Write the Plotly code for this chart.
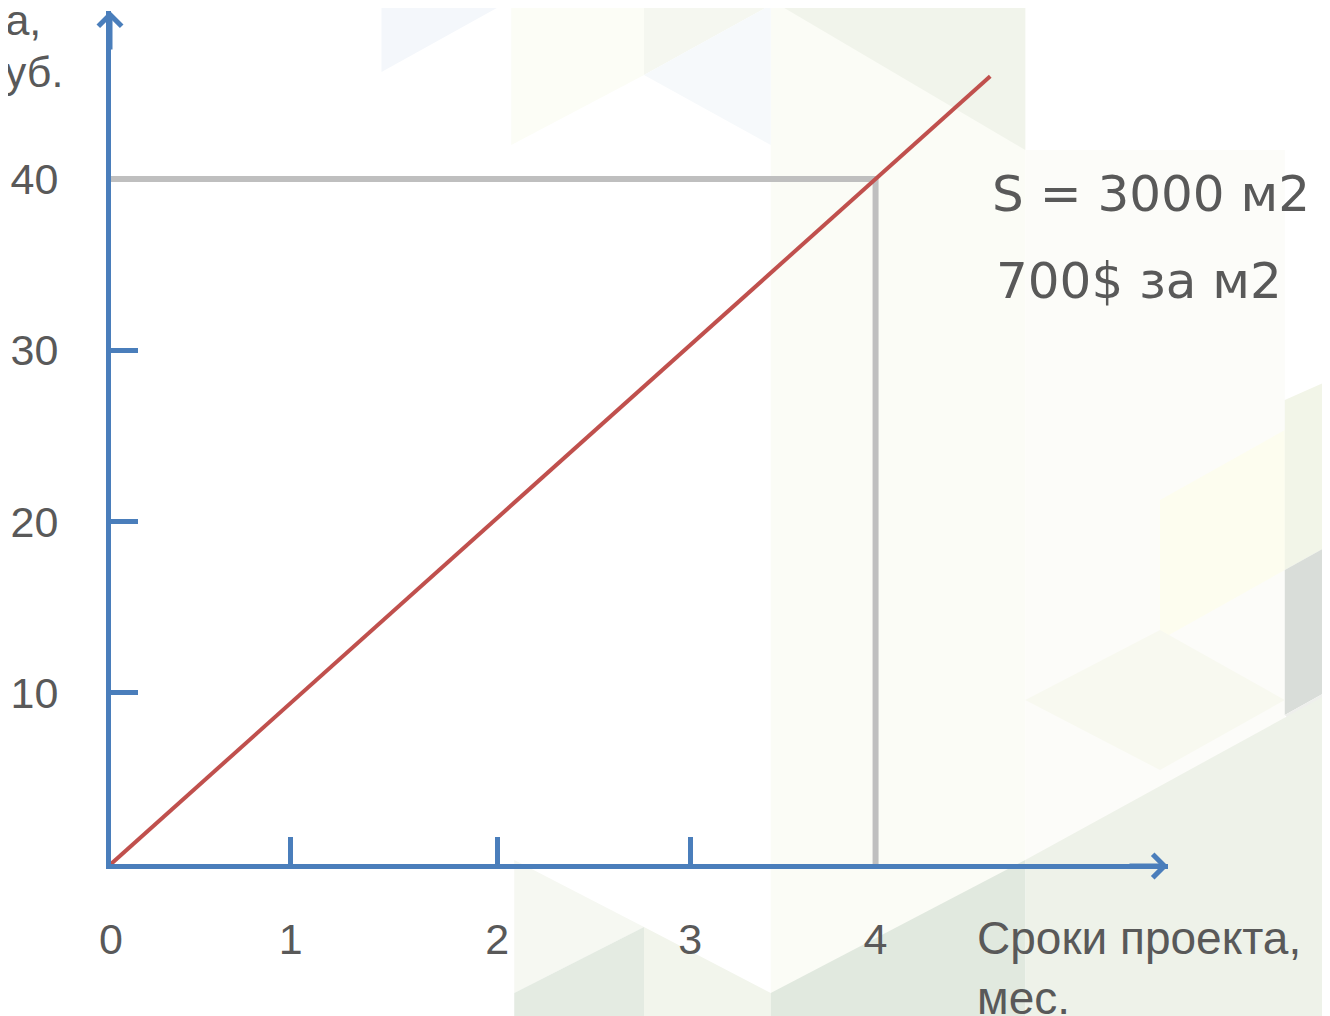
import plotly.graph_objects as go

# ---------------- data ----------------
months_line = [0, 4, 4.6]          # red revenue line (months)
revenue_line = [0, 40, 46]          # red revenue line (mln rub)
target_month = 4
target_revenue = 40
x_tick_pos = [0, 0.94, 2.02, 3.03, 4]
x_tick_text = ["0", "1", "2", "3", "4"]
y_tick_pos = [10, 20, 30, 40]
y_tick_text = ["10", "20", "30", "40"]
note_lines = ["S = 3000 м2", "700$ за м2"]
x_title = "Сроки проекта,<br>мес."
y_title_lines = ["Выгода,", "млн руб."]

# ---------------- style ----------------
W, H = 1330, 1016
OFF = 8                      # page body margin in the browser
L, R, T, B = 101, 1160, 3, 856   # plot area in figure pixels
BLUE = "#4A7EBB"
RED = "#C0504D"
GREY = "#BFBFBF"
TXT = "#595959"
FONT = "Liberation Sans, Arial, sans-serif"


def px(xs, ys):
    """screen pixel -> paper coordinates"""
    xf, yf = xs - OFF, ys - OFF
    return (xf - L) / (R - L), (B - yf) / (B - T)


fig = go.Figure()

# guide lines to target point
fig.add_trace(go.Scatter(x=[-0.03, target_month, target_month], y=[target_revenue, target_revenue, 0],
                         mode="lines", line=dict(color=GREY, width=6), hoverinfo="skip", showlegend=False))
# revenue line
fig.add_trace(go.Scatter(x=months_line, y=revenue_line, mode="lines",
                         line=dict(color=RED, width=4), hoverinfo="skip", showlegend=False))

# ---------------- background polygons (decoration, screen pixels) ----------------
bg_polys = [
    ([(770, 0), (1025, 0), (1025, 1016), (770, 1016)], "#fbfcf6"),
    ([(1025, 150), (1285, 150), (1285, 1016), (1025, 1016)], "#fcfcf9"),
    ([(380, 0), (510, 0), (380, 72)], "#f4f7fb"),
    ([(510, 0), (643, 0), (643, 75), (510, 145)], "#fcfdf6"),
    ([(643, 0), (770, 0), (770, 5), (643, 75)], "#f5f7f0"),
    ([(643, 75), (770, 5), (770, 145)], "#f6f9fb"),
    ([(770, 0), (1025, 0), (1025, 150)], "#f1f4eb"),
    ([(1160, 500), (1285, 430), (1285, 570), (1160, 640)], "#fdfdef"),
    ([(1285, 400), (1330, 380), (1330, 545), (1285, 570)], "#f2f5e8"),
    ([(1285, 570), (1330, 545), (1330, 690), (1285, 715)], "#d9ddd9"),
    ([(1285, 715), (1330, 690), (1330, 760)], "#eeefec"),
    ([(513, 860), (643, 927), (513, 993)], "#f6f8f2"),
    ([(513, 993), (643, 927), (643, 1016), (513, 1016)], "#e4ebe2"),
    ([(643, 927), (770, 993), (770, 1016), (643, 1016)], "#f2f5ec"),
    ([(770, 993), (1025, 860), (1025, 1016), (770, 1016)], "#e1e9df"),
    ([(1025, 860), (1330, 693), (1330, 1016), (1025, 1016)], "#eef2e9"),
    ([(1025, 700), (1160, 630), (1285, 700), (1160, 770)], "#f8f9f0"),
]
shapes = []
for pts, col in bg_polys:
    path = "M " + " L ".join(f"{px(a, b)[0]:.5f},{px(a, b)[1]:.5f}" for a, b in pts) + " Z"
    shapes.append(dict(type="path", xref="paper", yref="paper", path=path,
                       fillcolor=col, line=dict(width=0), layer="below"))

# ---------------- annotations ----------------
ann = []
# axis arrowheads
ann.append(dict(xref="paper", yref="paper", x=1, y=0, ax=-40, ay=0, text="", showarrow=True,
                arrowhead=4, arrowsize=0.9, arrowwidth=5, arrowcolor=BLUE, yshift=-2))
ann.append(dict(xref="paper", yref="paper", x=0, y=1, ax=0, ay=40, text="", showarrow=True,
                arrowhead=4, arrowsize=0.9, arrowwidth=5, arrowcolor=BLUE, xshift=-1))
# x title
xp, yp = px(975, 968)
ann.append(dict(xref="paper", yref="paper", x=xp, y=yp, xanchor="left", yanchor="middle", align="left",
                text=x_title, showarrow=False, font=dict(family=FONT, size=46, color=TXT)))
# y title (cut at left edge, as in the source slide)
for line, (rx, cy) in zip(y_title_lines, [(41, 20), (63, 72)]):
    xp, yp = px(rx, cy)
    ann.append(dict(xref="paper", yref="paper", x=xp, y=yp, xanchor="right", yanchor="middle",
                    text=line, showarrow=False, font=dict(family=FONT, size=43, color=TXT)))
# notes
for line, (lx, cy) in zip(note_lines, [(990, 194), (994, 281)]):
    xp, yp = px(lx, cy)
    ann.append(dict(xref="paper", yref="paper", x=xp, y=yp, xanchor="left", yanchor="middle",
                    text=line, showarrow=False,
                    font=dict(family="DejaVu Sans, sans-serif", size=50, color=TXT)))

axis_common = dict(showline=True, linecolor=BLUE, linewidth=5, ticks="inside", ticklen=27,
                   tickwidth=5, tickcolor=BLUE, showgrid=False, zeroline=False, layer="below traces",
                   tickfont=dict(family=FONT, size=43, color=TXT), fixedrange=True)

fig.update_layout(
    width=W, height=H,
    margin=dict(l=L, r=W - R, t=T, b=H - B, pad=0),
    paper_bgcolor="white", plot_bgcolor="rgba(0,0,0,0)",
    xaxis=dict(range=[0, 5.53], tickmode="array", tickvals=x_tick_pos, ticktext=x_tick_text,
               ticklabelstandoff=33, **axis_common),
    yaxis=dict(range=[0, 49.81], tickmode="array", tickvals=y_tick_pos, ticktext=y_tick_text,
               ticklabelstandoff=39, **axis_common),
    shapes=shapes, annotations=ann, showlegend=False,
)

fig.write_html("out.html")
